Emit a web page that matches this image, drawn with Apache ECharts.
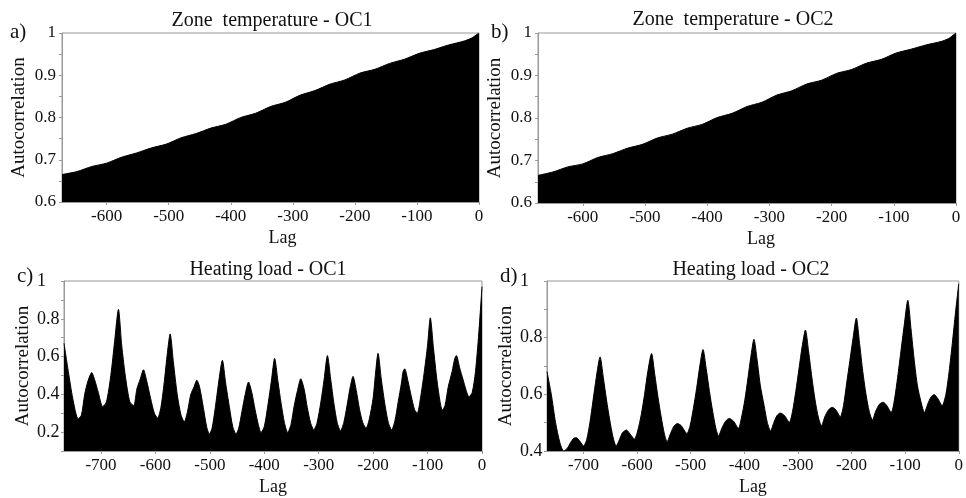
<!DOCTYPE html>
<html>
<head>
<meta charset="utf-8">
<script src="https://cdn.jsdelivr.net/npm/echarts@6/dist/echarts.min.js"></script>
<style>
  html, body { margin: 0; padding: 0; background: #fff; }
  #main { width: 966px; height: 498px; }
</style>
</head>
<body>
<div id="main"></div>
<script>
// zone temperature autocorrelation (lags 0..-672)
var lagsTemp = [-672, -648, -624, -600, -576, -552, -528, -504, -480, -456, -432, -408, -384, -360, -336,
  -312, -288, -264, -240, -216, -192, -168, -144, -120, -96, -72, -48, -24, -12, 0];
var tempOC1 = [0.665, 0.672, 0.684, 0.692, 0.706, 0.716, 0.728, 0.737, 0.752, 0.762, 0.775, 0.784, 0.800, 0.810, 0.826,
  0.836, 0.853, 0.864, 0.879, 0.889, 0.905, 0.914, 0.928, 0.938, 0.952, 0.961, 0.972, 0.981, 0.988, 1.0];
var tempOC2 = [0.665, 0.673, 0.685, 0.692, 0.707, 0.716, 0.729, 0.738, 0.753, 0.762, 0.776, 0.785, 0.801, 0.811, 0.827,
  0.837, 0.854, 0.864, 0.880, 0.889, 0.905, 0.914, 0.929, 0.938, 0.953, 0.962, 0.972, 0.980, 0.987, 1.0];

// heating load OC1 (lag, value)
var lagsHeat1 = [-768, -760, -752, -742, -736, -730, -724, -717, -712, -705, -697, -690, -682, -675, -668, -662, -655, -647,
  -640, -634, -628, -622, -616, -609, -602, -596, -590, -584, -578, -573, -567, -560, -553, -547, -541, -535, -529, -524,
  -519, -512, -506, -501, -496, -490, -484, -477, -471, -464, -458, -452, -447, -441, -435, -429, -423, -417, -411, -406,
  -400, -393, -387, -381, -375, -369, -363, -357, -351, -345, -339, -333, -327, -321, -315, -309, -303, -296, -290, -284,
  -278, -272, -266, -260, -254, -248, -242, -237, -231, -225, -219, -213, -207, -200, -196, -191, -185, -178, -172, -166,
  -160, -154, -148, -145, -142, -136, -130, -124, -119, -113, -106, -100, -95, -89, -83, -77, -73, -68, -62, -55, -50, -47,
  -41, -35, -29, -24, -18, -12, -6, 0];
var heatOC1 = [0.67, 0.52, 0.38, 0.27, 0.29, 0.40, 0.47, 0.515, 0.48, 0.41, 0.335, 0.36, 0.50, 0.68, 0.85, 0.66, 0.49, 0.36,
  0.34, 0.43, 0.48, 0.53, 0.47, 0.38, 0.30, 0.275, 0.33, 0.46, 0.62, 0.72, 0.57, 0.40, 0.29, 0.255, 0.31, 0.40, 0.44, 0.475,
  0.44, 0.33, 0.23, 0.19, 0.22, 0.33, 0.46, 0.58, 0.46, 0.33, 0.23, 0.19, 0.22, 0.31, 0.40, 0.465, 0.41, 0.32, 0.24, 0.198,
  0.23, 0.35, 0.47, 0.59, 0.47, 0.35, 0.25, 0.198, 0.24, 0.34, 0.42, 0.482, 0.43, 0.33, 0.25, 0.212, 0.25, 0.36, 0.48, 0.605,
  0.48, 0.35, 0.25, 0.207, 0.25, 0.34, 0.44, 0.495, 0.42, 0.32, 0.25, 0.221, 0.27, 0.38, 0.50, 0.617, 0.48, 0.34, 0.25, 0.212,
  0.26, 0.36, 0.46, 0.52, 0.535, 0.47, 0.39, 0.32, 0.30, 0.38, 0.52, 0.66, 0.805, 0.64, 0.48, 0.36, 0.317, 0.34, 0.44, 0.52, 0.59, 0.605,
  0.54, 0.48, 0.42, 0.387, 0.41, 0.52, 0.72, 0.97];

// heating load OC2 (lag, value)
var lagsHeat2 = [-768, -760, -752, -744, -737, -730, -724, -718, -713, -707, -700, -694, -688, -682, -676, -669, -663, -657,
  -651, -645, -639, -633, -627, -620, -613, -605, -599, -592, -586, -580, -573, -567, -561, -555, -549, -544, -538, -532,
  -525, -518, -507, -501, -495, -489, -483, -477, -471, -465, -459, -453, -448, -442, -435, -428, -420, -411, -405, -399,
  -393, -388, -382, -376, -370, -363, -357, -351, -345, -339, -333, -325, -316, -310, -304, -298, -292, -286, -280, -274,
  -268, -262, -256, -250, -243, -236, -229, -221, -215, -209, -203, -197, -191, -185, -179, -173, -167, -161, -155, -148,
  -141, -134, -126, -120, -114, -108, -102, -95, -89, -83, -77, -70, -64, -58, -52, -46, -39, -31, -24, -18, -12, -6, 0];
var heatOC2 = [0.68, 0.60, 0.50, 0.43, 0.40, 0.41, 0.43, 0.445, 0.447, 0.435, 0.418, 0.44, 0.50, 0.58, 0.66, 0.732, 0.66, 0.58,
  0.51, 0.45, 0.418, 0.44, 0.465, 0.474, 0.46, 0.442, 0.47, 0.53, 0.60, 0.68, 0.744, 0.67, 0.59, 0.52, 0.46, 0.433, 0.46, 0.485,
  0.497, 0.49, 0.462, 0.49, 0.55, 0.62, 0.70, 0.758, 0.69, 0.61, 0.54, 0.48, 0.453, 0.48, 0.505, 0.515, 0.505, 0.48, 0.52, 0.58,
  0.66, 0.73, 0.794, 0.72, 0.63, 0.56, 0.50, 0.471, 0.50, 0.525, 0.534, 0.525, 0.501, 0.54, 0.61, 0.69, 0.77, 0.827, 0.75, 0.66,
  0.58, 0.52, 0.489, 0.52, 0.545, 0.554, 0.545, 0.521, 0.56, 0.64, 0.72, 0.80, 0.869, 0.78, 0.68, 0.60, 0.54, 0.509, 0.54, 0.565,
  0.572, 0.56, 0.536, 0.58, 0.66, 0.75, 0.84, 0.932, 0.83, 0.72, 0.63, 0.57, 0.536, 0.565, 0.59, 0.599, 0.585, 0.56, 0.60, 0.68,
  0.78, 0.89, 0.99];

var ticksTemp = [-600, -500, -400, -300, -200, -100, 0];
var ticksHeat = [-700, -600, -500, -400, -300, -200, -100, 0];
var yLabelsHeat1 = [0.2, 0.4, 0.6, 0.8, 1];
var yTicksHeat1 = [0.1, 0.2, 0.3, 0.4, 0.5, 0.6, 0.7, 0.8, 0.9, 1];

var titles = ['Zone  temperature - OC1', 'Zone  temperature - OC2', 'Heating load - OC1', 'Heating load - OC2'];
var panelTags = ['a)', 'b)', 'c)', 'd)'];

var FONT = '"Liberation Serif", "Times New Roman", serif';
var INK = '#111';
var FRAME = '#999';

function pairs(xs, ys) {
    var out = [];
    for (var i = 0; i < xs.length; i++) {
        out.push([xs[i], ys[i]]);
    }
    return out;
}

var grids = [
    {left: 62, top: 33, width: 417, height: 169},
    {left: 538, top: 33, width: 418, height: 170},
    {left: 64, top: 281, width: 418, height: 170},
    {left: 547, top: 281, width: 418, height: 170}
];

function xAxisFor(idx, minLag, ticks, namePad) {
    return {
        gridIndex: idx, type: 'value', min: minLag, max: 0,
        name: 'Lag', nameLocation: 'middle', nameGap: 27,
        nameTextStyle: {fontFamily: FONT, fontSize: 18, color: INK, padding: [0, 0, 0, namePad]},
        axisLine: {show: true, onZero: false, lineStyle: {color: FRAME}},
        axisTick: {show: true, length: 3, customValues: ticks, lineStyle: {color: FRAME}},
        axisLabel: {customValues: ticks, margin: 6, fontFamily: FONT, fontSize: 17, color: INK},
        splitLine: {show: false}
    };
}

function yAxisFor(idx, extra) {
    var ax = {
        gridIndex: idx, type: 'value',
        name: 'Autocorrelation', nameLocation: 'middle', nameRotate: 90, nameGap: 33,
        nameTextStyle: {fontFamily: FONT, fontSize: 19, color: INK},
        axisLine: {show: true, onZero: false, lineStyle: {color: FRAME}},
        axisTick: {show: true, length: 3, lineStyle: {color: FRAME}},
        minorTick: {show: true, splitNumber: 2, length: 3, lineStyle: {color: FRAME}},
        axisLabel: {margin: 6, fontFamily: FONT, fontSize: 17, color: INK},
        splitLine: {show: false},
        minorSplitLine: {show: false}
    };
    for (var k in extra) {
        if (typeof extra[k] == 'object' && ax[k]) {
            for (var j in extra[k]) ax[k][j] = extra[k][j];
        } else {
            ax[k] = extra[k];
        }
    }
    return ax;
}

function areaSeries(idx, data) {
    return {
        type: 'line', xAxisIndex: idx, yAxisIndex: idx,
        data: data, showSymbol: false, smooth: 0.25, silent: true,
        lineStyle: {color: '#000', width: 1},
        areaStyle: {color: '#000', opacity: 1, origin: 'start'}
    };
}

var tagPos = [[10, 22], [491, 22], [17, 266], [500, 266]];
var titlePos = [[267, 6], [728, 5], [263, 255], [746, 255]];

var option = {
    animation: false,
    backgroundColor: '#fff',
    title: titles.map(function(t, i) {
        return {
            text: t, left: titlePos[i][0], top: titlePos[i][1], textAlign: 'center',
            textStyle: {fontFamily: FONT, fontSize: 20, fontWeight: 'normal', color: INK}
        };
    }),
    grid: grids.map(function(g) {
        return {left: g.left, top: g.top, width: g.width, height: g.height,
            show: true, borderColor: FRAME, borderWidth: 1, backgroundColor: 'transparent'};
    }),
    xAxis: [
        xAxisFor(0, -672, ticksTemp, 24),
        xAxisFor(1, -672, ticksTemp, 28),
        xAxisFor(2, -768, ticksHeat, 0),
        xAxisFor(3, -768, ticksHeat, 0)
    ],
    yAxis: [
        yAxisFor(0, {min: 0.6, max: 1, interval: 0.1}),
        yAxisFor(1, {min: 0.6, max: 1, interval: 0.1}),
        yAxisFor(2, {min: 0.1, max: 1, nameGap: 31,
            axisLabel: {customValues: yLabelsHeat1, align: 'left', margin: 27, fontSize: 18},
            axisTick: {customValues: yTicksHeat1},
            minorTick: {show: false}}),
        yAxisFor(3, {min: 0.4, max: 1, interval: 0.2, nameGap: 31,
            axisLabel: {align: 'left', margin: 27, fontSize: 18}})
    ],
    graphic: panelTags.map(function(t, i) {
        return {
            type: 'text', left: tagPos[i][0], top: tagPos[i][1],
            style: {text: t, fontFamily: FONT, fontSize: 21, fill: INK}
        };
    }),
    series: [
        areaSeries(0, pairs(lagsTemp, tempOC1)),
        areaSeries(1, pairs(lagsTemp, tempOC2)),
        areaSeries(2, pairs(lagsHeat1, heatOC1)),
        areaSeries(3, pairs(lagsHeat2, heatOC2))
    ]
};

var chart = echarts.init(document.getElementById('main'));
chart.setOption(option);
</script>
</body>
</html>
